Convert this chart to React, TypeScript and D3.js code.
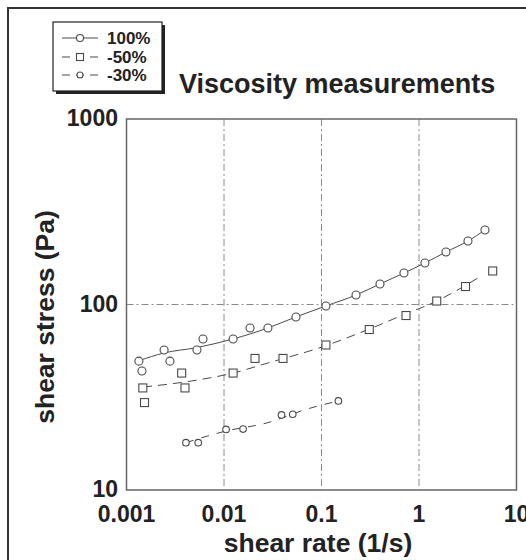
import React from "react";
import * as d3 from "d3";

// ---- data ----
const xTicks = [0.001, 0.01, 0.1, 1, 10];
const xTickLabels = ["0.001", "0.01", "0.1", "1", "10"];
const yTicks = [10, 100, 1000];
const yTickLabels = ["10", "100", "1000"];
const xGrid = [0.01, 0.1, 1];
const yGrid = [100];

const seriesNames = ["100%", "-50%", "-30%"];

// 100 % (circles)
const rate100 = [0.00134, 0.00144, 0.00243, 0.00279, 0.00528, 0.00609, 0.0124, 0.0185, 0.0282, 0.0547, 0.111, 0.226, 0.398, 0.701, 1.15, 1.89, 3.18, 4.75];
const stress100 = [49.5, 43.8, 56.9, 49.5, 56.9, 65.2, 65.2, 74.7, 74.7, 85.7, 98.2, 112.5, 129, 147.8, 167.4, 191.9, 219.9, 252];
const fitRate100 = [0.00134, 0.00243, 0.00528, 0.0124, 0.0282, 0.0547, 0.111, 0.226, 0.398, 0.701, 1.15, 1.89, 3.18, 4.75];
const fitStress100 = [49.8, 54.8, 58.6, 65.2, 74.7, 85.7, 98.2, 112.5, 129, 147.8, 167.4, 191.9, 219.9, 252];

// -50 % (squares)
const rate50 = [0.00147, 0.00153, 0.00368, 0.00398, 0.0124, 0.0208, 0.0403, 0.111, 0.309, 0.736, 1.52, 3.0, 5.7];
const stress50 = [35.5, 29.6, 42.7, 35.5, 42.7, 51.2, 51.2, 60.5, 73.3, 87.2, 104.4, 125, 151.6];
const fitRate50 = [0.00148, 0.00541, 0.0124, 0.0282, 0.101, 0.293, 0.686, 1.52, 4.03];
const fitStress50 = [35.9, 39.2, 42.7, 48.4, 59.0, 72.9, 87.8, 104.4, 139];

// -30 % (small circles)
const rate30 = [0.00407, 0.00544, 0.0105, 0.0157, 0.0389, 0.0507, 0.149];
const stress30 = [18.0, 18.0, 21.2, 21.3, 25.4, 25.6, 30.2];
const fitRate30 = [0.00407, 0.0105, 0.0276, 0.071, 0.149];
const fitStress30 = [18.0, 20.8, 23.0, 27.3, 30.2];

const W = 526;
const H = 560;
const FONT = "'Liberation Sans', Arial, Helvetica, sans-serif";
const INK = "#222";
const LINE = "#4a4a4a";

export default function App() {
  const x = d3.scaleLog().domain([0.001, 10]).range([126.5, 516.5]);
  const y = d3.scaleLog().domain([10, 1000]).range([490, 119]);

  const line = d3
    .line<[number, number]>()
    .x((d) => x(d[0]))
    .y((d) => y(d[1]))
    .curve(d3.curveMonotoneX);

  const zip = (a: number[], b: number[]) => a.map((v, i) => [v, b[i]] as [number, number]);

  const pts100 = zip(rate100, stress100);
  const pts50 = zip(rate50, stress50);
  const pts30 = zip(rate30, stress30);

  const styles = [
    { dash: undefined as string | undefined, width: 1 },
    { dash: "9,6", width: 1 },
    { dash: "8,8", width: 1 },
  ];

  const circle = (cx: number, cy: number, r: number, key: string) => (
    <circle key={key} cx={cx} cy={cy} r={r} fill="white" stroke={LINE} strokeWidth={1.1} />
  );
  const square = (cx: number, cy: number, s: number, key: string) => (
    <rect key={key} x={cx - s / 2} y={cy - s / 2} width={s} height={s} fill="white" stroke={LINE} strokeWidth={1.1} />
  );

  const legendRows = [38, 57, 75];

  return (
    <svg
      width={W}
      height={H}
      style={{ position: "absolute", left: 0, top: 0, background: "white" }}
      fontFamily={FONT}
    >
      <rect x={0} y={0} width={W} height={H} fill="white" />
      {/* outer frame (cropped on right/bottom) */}
      <path d={`M8,${H} L8,8 L${W},8`} fill="none" stroke="#333" strokeWidth={2} />

      {/* grid */}
      {xGrid.map((g) => (
        <line key={"gx" + g} x1={x(g)} x2={x(g)} y1={y(1000)} y2={y(10)} stroke="#8a8a8a" strokeWidth={1} strokeDasharray="7,3,2,3" />
      ))}
      {yGrid.map((g) => (
        <line key={"gy" + g} x1={x(0.001)} x2={x(10)} y1={y(g)} y2={y(g)} stroke="#8a8a8a" strokeWidth={1} strokeDasharray="7,3,2,3" />
      ))}

      {/* plot frame */}
      <rect x={x(0.001)} y={y(1000)} width={x(10) - x(0.001)} height={y(10) - y(1000)} fill="none" stroke="#666" strokeWidth={1.5} />

      {/* fit lines */}
      <path d={line(zip(fitRate100, fitStress100)) || ""} fill="none" stroke={LINE} strokeWidth={styles[0].width} />
      <path d={line(zip(fitRate50, fitStress50)) || ""} fill="none" stroke={LINE} strokeWidth={styles[1].width} strokeDasharray={styles[1].dash} />
      <path d={line(zip(fitRate30, fitStress30)) || ""} fill="none" stroke={LINE} strokeWidth={styles[2].width} strokeDasharray={styles[2].dash} />

      {/* markers */}
      {pts100.map((d, i) => circle(x(d[0]), y(d[1]), 4, "a" + i))}
      {pts50.map((d, i) => square(x(d[0]), y(d[1]), 8, "b" + i))}
      {pts30.map((d, i) => circle(x(d[0]), y(d[1]), 3.3, "c" + i))}

      {/* tick labels */}
      {xTicks.map((t, i) => (
        <text key={"xt" + t} x={x(t)} y={522} textAnchor="middle" fontSize={23} fontWeight="bold" fill={INK}>
          {xTickLabels[i]}
        </text>
      ))}
      {yTicks.map((t, i) => (
        <text key={"yt" + t} x={118} y={y(t) + 7} textAnchor="end" fontSize={23} fontWeight="bold" fill={INK}>
          {yTickLabels[i]}
        </text>
      ))}

      {/* axis titles */}
      <text x={318} y={552} textAnchor="middle" fontSize={26.5} fontWeight="bold" fill={INK}>
        shear rate (1/s)
      </text>
      <text transform="translate(54,317) rotate(-90)" textAnchor="middle" fontSize={26.5} fontWeight="bold" fill={INK}>
        shear stress (Pa)
      </text>

      {/* title */}
      <text x={179} y={93} fontSize={27} fontWeight="bold" fill={INK}>
        Viscosity measurements
      </text>

      {/* legend */}
      <rect x={56} y={25} width={109} height={69} fill="#222" />
      <rect x={53} y={22} width={109} height={69} fill="white" stroke="#222" strokeWidth={1.2} />
      {seriesNames.map((n, i) => (
        <g key={"lg" + n}>
          <line x1={62} x2={98} y1={legendRows[i]} y2={legendRows[i]} stroke={LINE} strokeWidth={1} strokeDasharray={styles[i].dash ? "8,6" : undefined} />
          {i === 0 && circle(80, legendRows[i], 3.5, "l0")}
          {i === 1 && square(80, legendRows[i], 7, "l1")}
          {i === 2 && circle(80, legendRows[i], 3, "l2")}
          <text x={107} y={legendRows[i] + 6} fontSize={17} fontWeight="bold" fill={INK}>
            {n}
          </text>
        </g>
      ))}
    </svg>
  );
}
